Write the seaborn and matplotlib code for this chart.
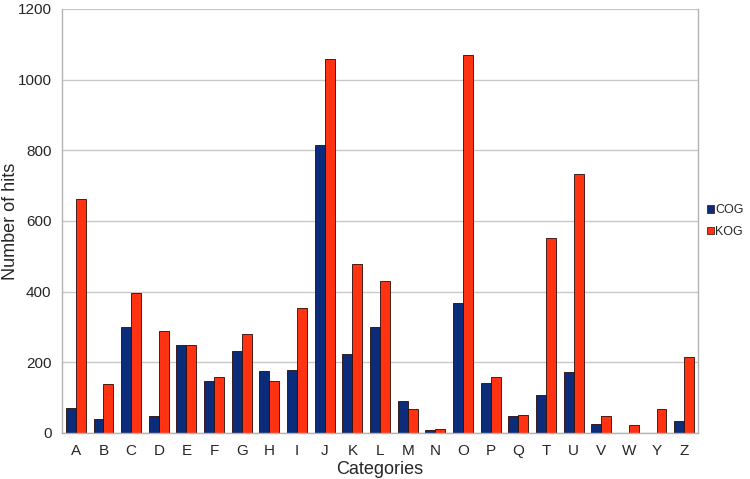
import matplotlib
matplotlib.use("Agg")
import matplotlib.pyplot as plt
import seaborn as sns
import pandas as pd
import numpy as np
from matplotlib.ticker import FixedLocator

categories = ["A","B","C","D","E","F","G","H","I","J","K","L","M","N","O","P","Q","T","U","V","W","Y","Z"]
cog = [71, 40, 299, 47, 248, 148, 233, 175, 177, 814, 223, 299, 90, 9, 368, 142, 49, 108, 173, 26, 0, 0, 35]
kog = [663, 138, 396, 288, 250, 158, 281, 146, 355, 1058, 479, 431, 68, 12, 1071, 159, 51, 551, 734, 49, 23, 68, 216]
series = ["COG", "KOG"]
colors = {"COG": "#0a2c7a", "KOG": "#ff3311"}

df = pd.DataFrame({
    "Category": categories * 2,
    "Series": ["COG"] * len(categories) + ["KOG"] * len(categories),
    "Hits": cog + kog,
})

sns.set_style("white")
plt.rcParams['font.family'] = ['Liberation Sans', 'DejaVu Sans']

fig = plt.figure(figsize=(7.5, 4.79), dpi=100)
ax = fig.add_axes([62/750, 1 - 433/479, (698-62)/750, (433-9)/479])

sns.barplot(data=df, x="Category", y="Hits", hue="Series", order=categories,
            hue_order=series, palette=colors, width=0.72, gap=0, saturation=1,
            edgecolor="#2a0a05", linewidth=0.6, ax=ax, legend=True)

ax.set_ylim(0, 1200)
ax.set_xlim(-0.5, len(categories) - 0.5)
ax.set_yticks(np.arange(0, 1201, 200))
ax.yaxis.grid(True, color="#c8c8c8", linewidth=1)
ax.set_axisbelow(True)
for s in ["left", "right", "bottom", "top"]:
    ax.spines[s].set_color("#b3b3b3")
    ax.spines[s].set_linewidth(1)
ax.spines["top"].set_visible(False)

ax.tick_params(axis="x", length=0, labelsize=11, pad=8)
ax.tick_params(axis="y", length=4, color="#b3b3b3", labelsize=11, direction="out")
ax.xaxis.set_minor_locator(FixedLocator(np.arange(-0.5, len(categories), 1)))
ax.tick_params(axis="x", which="minor", length=4, color="#b3b3b3", direction="out")

ax.set_xlabel("Categories", fontsize=13, labelpad=2)
ax.set_ylabel("Number of hits", fontsize=13)
ax.yaxis.set_label_coords(-0.068, 0.5)

leg = ax.legend(loc="center left", bbox_to_anchor=(1.0, 0.5), frameon=False,
                fontsize=9, handlelength=0.55, handleheight=0.55, handletextpad=0.15,
                labelspacing=0.75, borderaxespad=0.7, borderpad=0)
for h in leg.legend_handles:
    h.set_edgecolor("#2a0a05")
    h.set_linewidth(0.5)

fig.savefig("out.png", dpi=100)
